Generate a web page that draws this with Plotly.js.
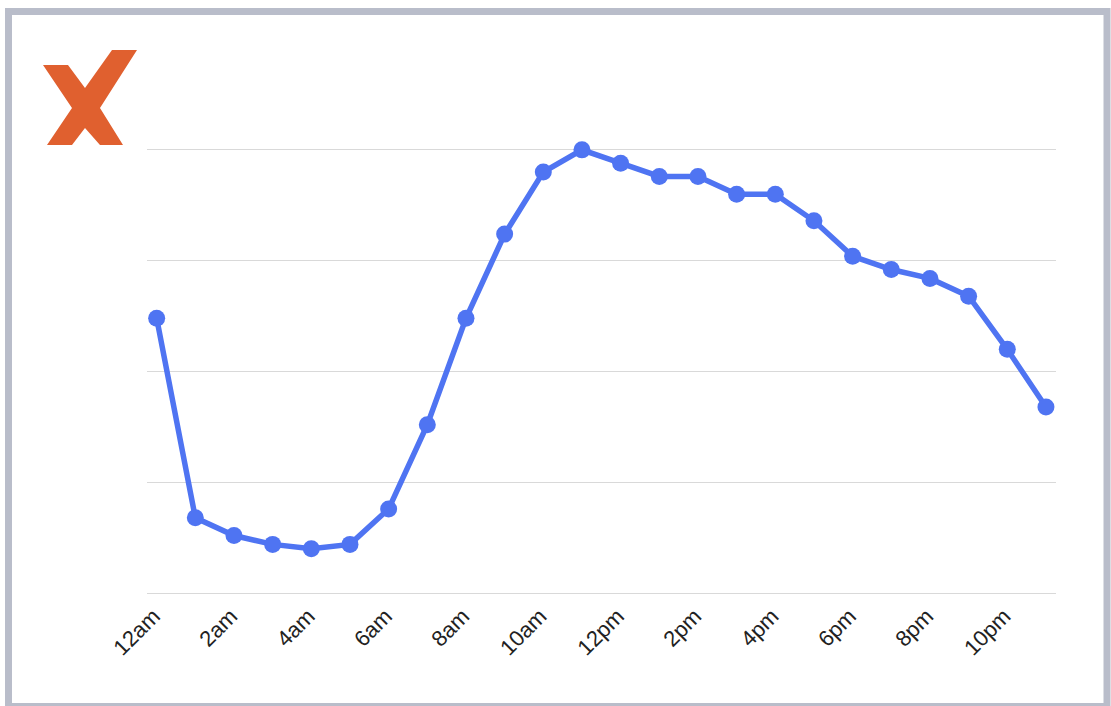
<!DOCTYPE html>
<html>
<head>
<meta charset="utf-8">
<script src="https://cdn.plot.ly/plotly-3.0.1.min.js"></script>
<style>
html,body{margin:0;padding:0;background:#fff;}
#chart{width:1111px;height:706px;}
</style>
</head>
<body>
<div id="chart"></div>
<script>
// Data
const hours = ["12am","1am","2am","3am","4am","5am","6am","7am","8am","9am","10am","11am",
               "12pm","1pm","2pm","3pm","4pm","5pm","6pm","7pm","8pm","9pm","10pm","11pm"];
const interest = [62,17,13,11,10,11,19,38,62,81,95,100,97,94,94,90,90,84,76,73,71,67,55,42];
const tickLabels = ["12am","2am","4am","6am","8am","10am","12pm","2pm","4pm","6pm","8pm","10pm"];
const gridValues = [0,25,50,75,100];

const W = 1111, H = 706;
const M = {l:147, r:55, t:141, b:104};
function px(x){ return (x - M.l) / (W - M.l - M.r); }
function py(y){ return (H - M.b - y) / (H - M.t - M.b); }

// logo outline (pixel coordinates -> paper)
const logoPts = [[43,65],[68,65],[85,88],[112,50],[137,50],[100,108],[123,145],[100,145],[85,128],[72,145],[47,145],[72,108]];
const logoPath = logoPts.map((p,i)=>(i?'L':'M')+px(p[0]).toFixed(5)+','+py(p[1]).toFixed(5)).join(' ')+' Z';

const trace = {
  x: hours,
  y: interest,
  type: 'scatter',
  mode: 'lines+markers',
  line: {color:'#4f74f2', width:5.5},
  marker: {color:'#4f74f2', size:17},
  cliponaxis: false,
  hoverinfo: 'x+y'
};

const layout = {
  width: W, height: H,
  margin: M,
  paper_bgcolor: 'rgba(0,0,0,0)',
  plot_bgcolor: 'rgba(0,0,0,0)',
  showlegend: false,
  font: {family: '"Liberation Sans", Arial, sans-serif', color:'#222', size:22},
  xaxis: {
    type: 'category',
    range: [-0.25, 23.26],
    tickmode: 'array',
    tickvals: tickLabels,
    ticktext: tickLabels,
    tickangle: -45,
    showgrid: false,
    zeroline: false,
    showline: false,
    ticks: '',
    ticklabelshift: -3,
    ticklabelstandoff: -4,
    tickfont: {size:22, color:'#222'}
  },
  yaxis: {
    range: [-2, 102],
    tickmode: 'array',
    tickvals: gridValues,
    showticklabels: false,
    showgrid: true,
    gridcolor: '#d9d9d9',
    gridwidth: 1,
    zeroline: false,
    showline: false,
    ticks: ''
  },
  shapes: [
    {type:'rect', xref:'paper', yref:'paper', layer:'below',
     x0: px(8.5), x1: px(1107), y0: py(11.5), y1: py(706.5),
     line:{color:'#b9bdca', width:7}, fillcolor:'rgba(0,0,0,0)'},
    {type:'path', xref:'paper', yref:'paper', path: logoPath,
     fillcolor:'#e0602f', line:{width:0}}
  ]
};

Plotly.newPlot('chart', [trace], layout, {displayModeBar:false, staticPlot:true});
</script>
</body>
</html>
